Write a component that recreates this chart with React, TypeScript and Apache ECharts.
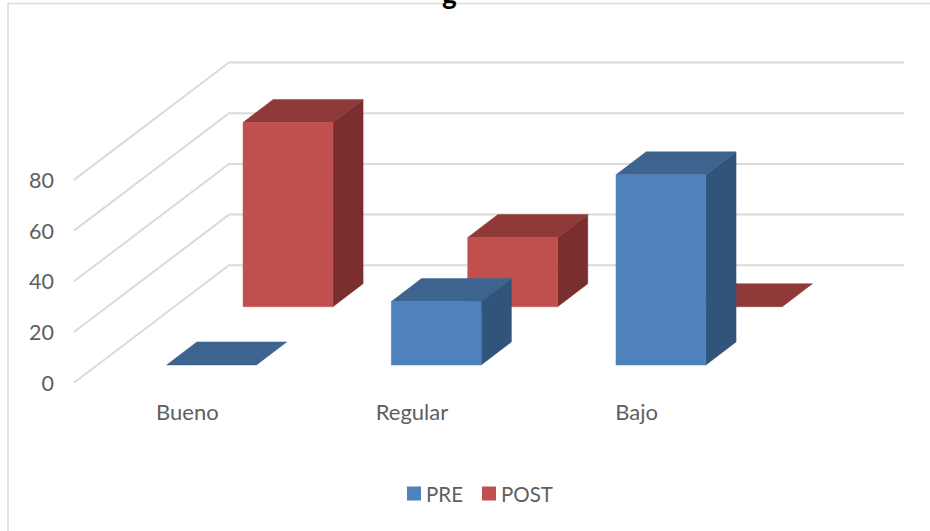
import React, { useEffect, useRef } from "react";
import * as echarts from "echarts";

const categories = ["Bueno", "Regular", "Bajo"];
const preValues = [0, 25, 75];
const postValues = [72.7, 27.3, 0];
const yTicks = [0, 20, 40, 60, 80];

// Oblique projection of the floor: how far the back wall sits from the front plane.
const WALL_DX = 154;
const WALL_DY = 117.4;
const WALL_RIGHT_DX = 155;
const BAR_SHARE = 0.4;
const ROW_DEPTH = 0.196;
const PRE_ROW = 0.151;
const POST_ROW = 0.647;
const FONT = "Lato, Carlito, sans-serif";

const PRE_COLORS = { front: "#4F81BD", top: "#3C648F", side: "#31547A" };
const POST_COLORS = { front: "#C0504D", top: "#8F3A39", side: "#7A2F2E" };

function wallRenderer(params: any, api: any) {
  const value = api.value(0);
  const [, y0] = api.coord([0, value]);
  const left = params.coordSys.x;
  const right = left + params.coordSys.width + WALL_RIGHT_DX;
  return {
    type: "polyline",
    shape: {
      points: [
        [left - 1, y0],
        [left + WALL_DX, y0 - WALL_DY],
        [right, y0 - WALL_DY],
      ],
    },
    style: { stroke: "#DADADA", lineWidth: 2, fill: "none" },
    silent: true,
  };
}

function barRenderer(row: number, colors: typeof PRE_COLORS) {
  return (_params: any, api: any) => {
    const cat = api.value(0);
    const [cx, yBase] = api.coord([cat, 0]);
    const [, yTop] = api.coord([cat, api.value(1)]);
    const band = api.size([1, 0])[0];
    const width = band * BAR_SHARE;
    const sx = WALL_DX * row + 1;
    const sy = WALL_DY * row;
    const l = cx - width / 2 + sx;
    const r = l + width;
    const bottom = yBase - sy;
    const top = yTop - sy;
    const dx = WALL_DX * ROW_DEPTH;
    const dy = WALL_DY * ROW_DEPTH;
    const face = (points: number[][], fill: string) => ({
      type: "polygon",
      shape: { points },
      style: { fill, stroke: fill, lineWidth: 0.5 },
    });
    const children = [];
    if (bottom - top > 0.5) {
      children.push(
        face([[r, bottom], [r + dx, bottom - dy], [r + dx, top - dy], [r, top]], colors.side),
      );
    }
    children.push(face([[l, top], [l + dx, top - dy], [r + dx, top - dy], [r, top]], colors.top));
    if (bottom - top > 0.5) {
      children.push(face([[l, top], [r, top], [r, bottom], [l, bottom]], colors.front));
    }
    return { type: "group", children };
  };
}

export default function App() {
  const ref = useRef<HTMLDivElement>(null);

  useEffect(() => {
    const chart = echarts.init(ref.current!, null, { renderer: "svg" });
    chart.setOption({
      animation: false,
      backgroundColor: "#ffffff",
      textStyle: { fontFamily: FONT },
      title: {
        text: "g",
        left: 437,
        top: -26,
        textStyle: { fontFamily: FONT, fontSize: 28, fontWeight: "bold", color: "#000000" },
      },
      legend: {
        data: ["PRE", "POST"],
        left: 407,
        top: 483,
        padding: 0,
        icon: "rect",
        itemWidth: 14,
        itemHeight: 14,
        itemGap: 19,
        textStyle: { fontFamily: FONT, fontSize: 20.5, color: "#5F5F5F", padding: [0, 0, 0, 0] },
      },
      grid: { left: 75, top: 179.9, width: 674, height: 202.8 },
      xAxis: {
        type: "category",
        data: categories,
        axisLine: { show: false },
        axisTick: { show: false },
        axisLabel: { margin: 18, fontFamily: FONT, fontSize: 22, color: "#5F5F5F" },
      },
      yAxis: {
        type: "value",
        min: 0,
        max: 80,
        interval: 20,
        splitLine: { show: false },
        axisLine: { show: false },
        axisTick: { show: false },
        axisLabel: {
          margin: 21,
          fontFamily: FONT,
          fontSize: 21.5,
          color: "#5F5F5F",
          padding: [0, 0, 2, 0],
        },
      },
      series: [
        {
          type: "custom",
          name: "walls",
          clip: false,
          silent: true,
          data: yTicks.map((t) => [t]),
          encode: { y: 0 },
          renderItem: wallRenderer,
          z: 1,
        },
        {
          type: "custom",
          name: "POST",
          clip: false,
          itemStyle: { color: POST_COLORS.front },
          data: postValues.map((v, i) => [i, v]),
          encode: { x: 0, y: 1 },
          renderItem: barRenderer(POST_ROW, POST_COLORS),
          z: 2,
        },
        {
          type: "custom",
          name: "PRE",
          clip: false,
          itemStyle: { color: PRE_COLORS.front },
          data: preValues.map((v, i) => [i, v]),
          encode: { x: 0, y: 1 },
          renderItem: barRenderer(PRE_ROW, PRE_COLORS),
          z: 3,
        },
      ],
      graphic: [
        {
          type: "polyline",
          shape: { points: [[8, 531], [8, 3.5], [930, 3.5]] },
          style: { stroke: "#D9D9D9", lineWidth: 1.5, fill: "none" },
          silent: true,
          z: 0,
        },
      ],
    });
    return () => chart.dispose();
  }, []);

  return (
    <div
      ref={ref}
      style={{ position: "absolute", left: 0, top: 0, width: 930, height: 531 }}
    />
  );
}
